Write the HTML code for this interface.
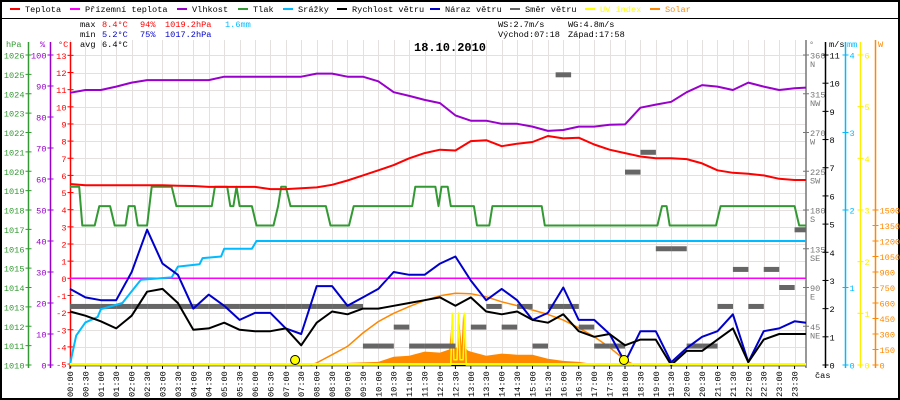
<!DOCTYPE html>
<html><head><meta charset="utf-8"><style>
html,body{margin:0;padding:0;background:#fff}
svg{display:block}
text{font-family:"Liberation Mono",monospace;font-size:8.6px}
</style></head><body>
<svg id="chart" width="900" height="400" viewBox="0 0 900 400" xmlns="http://www.w3.org/2000/svg">
<rect x="1" y="1" width="898" height="398" fill="#fff" stroke="#000" stroke-width="2"/>
<line x1="0" y1="18.5" x2="900" y2="18.5" stroke="#000"/>
<g id="grid"></g>
<g id="legend"></g>
<g>
<text x="80" y="27" fill="#000">max</text>
<text x="102" y="27" fill="#f00">8.4°C</text>
<text x="140" y="27" fill="#f00">94%</text>
<text x="165" y="27" fill="#f00">1019.2hPa</text>
<text x="225" y="27" fill="#0bf">1.6mm</text>
<text x="80" y="37" fill="#000">min</text>
<text x="102" y="37" fill="#00c">5.2°C</text>
<text x="140" y="37" fill="#00c">75%</text>
<text x="165" y="37" fill="#00c">1017.2hPa</text>
<text x="80" y="47" fill="#000">avg</text>
<text x="102" y="47" fill="#000">6.4°C</text>
<text x="498" y="27" fill="#000">WS:2.7m/s</text>
<text x="568" y="27" fill="#000">WG:4.8m/s</text>
<text x="498" y="37" fill="#000">Východ:07:18</text>
<text x="568" y="37" fill="#000">Západ:17:58</text>
<text x="414" y="51" fill="#000" style="font-size:12px;font-weight:bold">18.10.2010</text>
</g>
<g id="axes"></g>
<g id="series"></g>
</svg>
<script>
const hours = [0,0.5,1,1.5,2,2.5,3,3.5,4,4.5,5,5.5,6,6.5,7,7.5,8,8.5,9,9.5,10,10.5,11,11.5,12,12.5,13,13.5,14,14.5,15,15.5,16,16.5,17,17.5,18,18.5,19,19.5,20,20.5,21,21.5,22,22.5,23,23.5,24];
const temperature = [5.5,5.42,5.42,5.42,5.42,5.42,5.42,5.4,5.38,5.33,5.33,5.33,5.33,5.2,5.2,5.25,5.3,5.45,5.7,6.0,6.3,6.6,7.0,7.3,7.5,7.45,8.0,8.05,7.7,7.85,7.95,8.3,8.16,8.2,7.8,7.5,7.3,7.1,7.0,7.0,6.95,6.7,6.3,6.15,6.1,6.0,5.8,5.73,5.73];
const apparentTemp = [0,0,0,0,0,0,0,0,0,0,0,0,0,0,0,0,0,0,0,0,0,0,0,0,0,0,0,0,0,0,0,0,0,0,0,0,0,0,0,0,0,0,0,0,0,0,0,0,0];
const humidity = [87.8,88.7,88.7,89.8,91.1,91.9,91.9,91.9,91.9,91.9,93,93,93,93,93,93,94,94,93,93,91.5,88,86.8,85.5,84.5,80.5,78.8,78.8,77.8,77.8,76.9,75.5,75.8,76.9,76.9,77.5,77.6,83,84,84.9,88,90.3,89.8,88.7,91.1,89.8,88.7,89.3,89.5];
const windSpeed = [1.9,1.75,1.55,1.3,1.75,2.6,2.7,2.2,1.25,1.3,1.5,1.25,1.2,1.2,1.3,0.7,1.5,1.9,1.8,2.0,2.0,2.1,2.2,2.3,2.4,2.1,2.4,1.9,1.8,1.9,1.6,1.5,1.8,1.2,1.0,1.1,0.7,0.9,0.9,0,0.5,0.5,0.9,1.3,0.1,0.9,1.1,1.1,1.1];
const windGust = [2.7,2.4,2.3,2.3,3.3,4.8,3.6,3.2,2.0,2.5,2.1,1.6,1.85,1.85,1.3,1.1,2.8,2.8,2.1,2.4,2.7,3.3,3.2,3.2,3.6,3.85,3.0,2.3,2.7,2.3,1.6,1.85,2.75,1.6,1.6,1.1,0.1,1.2,1.2,0.1,0.6,1.0,1.2,1.8,0.1,1.2,1.3,1.55,1.5];
// measured solar (finer breakpoints)
const solarHours = [0,8.3,8.5,9,9.5,10,10.5,11,11.5,12,12.3,12.4,12.45,12.55,12.6,12.7,12.75,12.85,12.9,13,13.5,14,14.5,15,15.5,16,16.5,17,17.5,24];
const solarW = [0,0,5,20,25,30,80,90,130,120,150,480,160,170,520,180,500,160,140,130,90,110,100,100,60,40,30,10,0,0];
const uvHours = [0,12.35,12.4,12.45,12.55,12.6,12.65,12.75,12.8,12.85,24];
const uvIndex = [0,0,1.0,0.1,0.1,1.0,0.1,0.1,1.0,0,0];
const sunCurveHours = [7.8,8,8.5,9,9.5,10,10.5,11,11.5,12,12.5,13,13.5,14,14.5,15,15.5,16,16.5,17,17.5,18,18.3];
const sunCurveW = [0,20,100,180,310,420,500,565,625,670,695,690,660,612,575,532,490,435,360,274,170,48,0];
const pressHours = [0,0.3,0.4,0.8,0.95,1.3,1.45,1.8,1.9,2.1,2.2,2.5,2.65,3.3,3.45,4.6,4.7,5.1,5.2,5.3,5.4,5.5,5.9,6.05,6.6,6.75,6.85,7.0,7.15,8.3,8.45,9.05,9.2,11.1,11.2,11.85,11.95,12.05,12.25,12.35,13.1,13.2,13.6,13.7,15.3,15.4,19.05,19.2,19.35,19.45,20.95,21.1,23.5,23.65,24];
const pressure = [1019.2,1019.2,1017.2,1017.2,1018.2,1018.2,1017.2,1017.2,1018.2,1018.2,1017.2,1017.2,1019.2,1019.2,1018.2,1018.2,1019.2,1019.2,1018.2,1018.2,1019.2,1018.2,1018.2,1017.2,1017.2,1018.2,1019.2,1019.2,1018.2,1018.2,1017.2,1017.2,1018.2,1018.2,1019.2,1019.2,1018.2,1019.2,1019.2,1018.2,1018.2,1017.2,1017.2,1018.2,1018.2,1017.2,1017.2,1018.2,1018.2,1017.2,1017.2,1018.2,1018.2,1017.2,1017.2];
const rainHours = [0,0.05,0.2,0.5,0.9,1.0,1.7,2.1,2.3,3.3,3.5,4.2,4.3,4.9,5.0,5.9,6.05,24];
const rainMm = [0,0.1,0.38,0.55,0.62,0.72,0.8,1.0,1.1,1.13,1.27,1.3,1.38,1.4,1.5,1.5,1.6,1.6];
const dirHours = [0,0.5,1,1.5,2,2.5,3,3.5,4,4.5,5,5.5,6,6.5,7,7.5,8,8.5,9,9.5,10,10.5,11,11.5,12,13,13.5,14,14.5,15,15.5,15.75,16,16.5,17,17.5,18,18.5,19,19.5,20,20.5,21,21.5,22,22.5,23,23.5,23.9];
const dirDeg = [68,68,68,68,68,68,68,68,68,68,68,68,68,68,68,68,68,68,68,22,22,44,22,22,22,44,68,44,68,22,68,337,68,44,22,22,224,247,135,135,22,22,68,111,68,111,90,157,135];
const tempTicks = [-5,-4,-3,-2,-1,0,1,2,3,4,5,6,7,8,9,10,11,12,13];
const hpaTicks = [1010,1011,1012,1013,1014,1015,1016,1017,1018,1019,1020,1021,1022,1023,1024,1025,1026];
const humTicks = [0,10,20,30,40,50,60,70,80,90,100];
const dirTicks = [45,90,135,180,225,270,315,360];
const dirNames = ['NE','E','SE','S','SW','W','NW','N'];
const msTicks = [0,1,2,3,4,5,6,7,8,9,10,11];
const mmTicks = [0,1,2,3,4];
const uvTicks = [0,1,2,3,4,5,6];
const wTicks = [0,150,300,450,600,750,900,1050,1200,1350,1500];
const timeLabels = ['00:00','00:30','01:00','01:30','02:00','02:30','03:00','03:30','04:00','04:30','05:00','05:30','06:00','06:30','07:00','07:30','08:00','08:30','09:00','09:30','10:00','10:30','11:00','11:30','12:00','12:30','13:00','13:30','14:00','14:30','15:00','15:30','16:00','16:30','17:00','17:30','18:00','18:30','19:00','19:30','20:00','20:30','21:00','21:30','22:00','22:30','23:00','23:30'];
const legendNames = ['Teplota','Přízemní teplota','Vlhkost','Tlak','Srážky','Rychlost větru','Náraz větru','Směr větru','UV index','Solar'];
const legendColors = ['#ff0000','#ff00ff','#9900cc','#339933','#00bbff','#000000','#0000cc','#666666','#ffff00','#ff8800'];
const legendX = [10,70,177,238,283,337,430,510,585,650];
const sunEvents = [7.3,17.967];

const NS='http://www.w3.org/2000/svg';
const X = t => 70 + t*30.833;
const T = v => 278.3 - v*17.15;
const P = v => 365 - (v-1010)*19.375;
const H = v => 365 - v*3.1;
const WS = v => 365 - v*28.18;
const R = v => 365 - v*77.5;
const U = v => 365 - v*51.67;
const S = v => 365 - v*0.10333;
const D = v => 365 - v*0.8611;
function mk(tag, parent, attrs){const e=document.createElementNS(NS,tag);for(const k in attrs)e.setAttribute(k,attrs[k]);parent.appendChild(e);return e;}
const grid=document.getElementById('grid'), axes=document.getElementById('axes'), ser=document.getElementById('series'), leg=document.getElementById('legend');

for(let i=0;i<timeLabels.length;i++){
  const x=Math.round(X(hours[i]))+0.5;
  const l=mk('line',grid,{x1:x,y1:40,x2:x,y2:365,stroke:'#e4e0e0'});
  
  
}
tempTicks.forEach(v=>{const y=Math.round(T(v))+0.5;
  const l=mk('line',grid,{x1:70,y1:y,x2:806,y2:y,stroke:'#e4e0e0'});
  
  
});

legendNames.forEach((n,i)=>{
  const g=mk('g',leg,{});
  
  
  mk('rect',g,{x:legendX[i],y:8,width:10,height:2,fill:legendColors[i]});
  const t=mk('text',g,{x:legendX[i]+15,y:12,fill:(i>=8?legendColors[i]:'#000')});t.textContent=n;
});

function vaxis(x,color,ticks,scale,labelFn,side,name,top){
  const l=mk('line',axes,{x1:x,y1:top||42,x2:x,y2:368,stroke:color,'stroke-width':1.5});
  
  
  ticks.forEach((v,i)=>{const y=scale(v);
    mk('line',axes,{x1:x-3,y1:y,x2:x+3,y2:y,stroke:color});
    const t=mk('text',axes,{x:side<0?x-4:x+4,y:y+3.5,fill:color,'text-anchor':side<0?'end':'start'});
    t.textContent=labelFn(v,i);
    
    
  });
}
vaxis(28.5,'#339933',hpaTicks,P,v=>v,-1,'hpa-axis');
vaxis(50.5,'#9900cc',humTicks,H,v=>v,-1,'humidity-axis');
vaxis(70.5,'#ff0000',tempTicks,T,v=>v,-1,'temp-axis');
vaxis(806,'#777777',dirTicks,D,v=>v,1,'direction-axis',40);
dirTicks.forEach((v,i)=>{const t=mk('text',axes,{x:810,y:D(v)+12,fill:'#777'});t.textContent=dirNames[i];});
vaxis(825.5,'#000000',msTicks,WS,v=>v,1,'ms-axis');
vaxis(845.5,'#00bbff',mmTicks,R,v=>v,1,'mm-axis');
vaxis(860.5,'#ffee00',uvTicks,U,v=>v,1,'uv-axis');
vaxis(875.5,'#ff8800',wTicks,S,v=>v,1,'solar-axis',40);
[['hPa',6,'#339933'],['%',40,'#9900cc'],['°C',58,'#ff0000'],['°',809,'#777'],['m/s',829,'#000'],['mm',847,'#00bbff'],['W',878,'#ff8800']].forEach(a=>{
  const t=mk('text',axes,{x:a[1],y:47,fill:a[2]});t.textContent=a[0];
  
  
});
const xl=mk('line',axes,{x1:70,y1:365.5,x2:806,y2:365.5,stroke:'#000','stroke-width':1.5});


timeLabels.forEach((s,i)=>{const x=X(hours[i]);
  mk('line',axes,{x1:x,y1:365,x2:x,y2:369,stroke:'#000'});
  const t=mk('text',axes,{x:0,y:0,transform:`translate(${x+3},397) rotate(-90)`,fill:'#000'});t.textContent=s;
  
  
});
const cas=mk('text',axes,{x:815,y:378,fill:'#000'});cas.textContent='čas';



function line(xs,ys,sx,sy,color,w,name){
  const pts=xs.map((t,i)=>Math.min(X(t),806).toFixed(1)+','+sy(ys[i]).toFixed(1)).join(' ');
  const p=mk('polyline',ser,{points:pts,fill:'none',stroke:color,'stroke-width':w,'stroke-linejoin':'round'});
  
  
}
{const pts=solarHours.map((t,i)=>Math.min(X(t),806).toFixed(1)+','+S(solarW[i]).toFixed(1)).concat([806+','+S(0),X(0)+','+S(0)]);
 const p=mk('polygon',ser,{points:pts.join(' '),fill:'#ff8800'});
 
 }
line(uvHours,uvIndex,X,U,'#ffff00',1.5,'uv-line');
line(sunCurveHours,sunCurveW,X,S,'#ff8800',1.5,'solar-theoretical-line');
dirHours.forEach((t,i)=>{
  const r=mk('rect',ser,{x:X(t),y:D(dirDeg[i])-2.5,width:Math.min(15.5,806-X(t)),height:5,fill:'#666'});
  
  
});
line(hours,apparentTemp,X,T,'#ff00ff',1.5,'apparent-temp-line');
line(rainHours,rainMm,X,R,'#00bbff',2,'rain-line');
line(pressHours,pressure,X,P,'#339933',2,'pressure-line');
line(hours,humidity,X,H,'#9900cc',2,'humidity-line');
line(hours,temperature,X,T,'#ff0000',2,'temperature-line');
line(hours,windGust,X,WS,'#0000cc',2,'wind-gust-line');
line(hours,windSpeed,X,WS,'#000000',2,'wind-speed-line');
{const z=mk('line',ser,{x1:70,y1:364,x2:806,y2:364,stroke:'#ffff00','stroke-width':2});
 
 }
sunEvents.forEach(t=>{
  const c=mk('circle',ser,{cx:X(t),cy:360,r:4.5,fill:'#ffff00',stroke:'#000','stroke-width':1});
  
  
});
</script>
</body></html>
